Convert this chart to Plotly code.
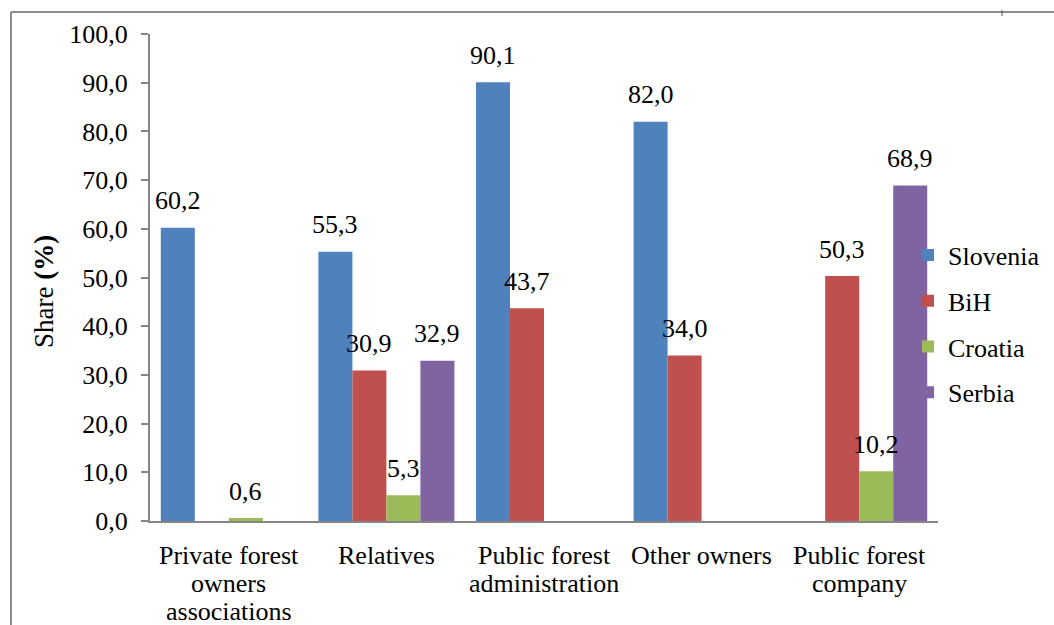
import plotly.graph_objects as go

categories = ["Private forest owners associations", "Relatives",
              "Public forest administration", "Other owners",
              "Public forest company"]
category_lines = [["Private forest", "owners", "associations"], ["Relatives"],
                  ["Public forest", "administration"], ["Other owners"],
                  ["Public forest", "company"]]
slovenia = [60.2, 55.3, 90.1, 82.0, None]
bih = [None, 30.9, 43.7, 34.0, 50.3]
croatia = [0.6, 5.3, None, None, 10.2]
serbia = [None, 32.9, None, None, 68.9]

series = [("Slovenia", slovenia, "#4F81BD"),
          ("BiH", bih, "#C0504D"),
          ("Croatia", croatia, "#9BBB59"),
          ("Serbia", serbia, "#8064A2")]

FONT = "Liberation Serif, Times New Roman, serif"
FS = 26
BARGAP = 0.137

fig = go.Figure()
annotations = []
n = len(series)
bw = (1 - BARGAP) / n
for i, (name, vals, col) in enumerate(series):
    fig.add_trace(go.Bar(
        x=categories, y=vals, name=name, legendgroup=name,
        marker=dict(color=col, line=dict(width=0)),
    ))
    for j, v in enumerate(vals):
        if v is None:
            continue
        annotations.append(dict(
            x=j + (i - (n - 1) / 2) * bw, y=v, xref="x", yref="y",
            text=f"{v:.1f}".replace(".", ","), showarrow=False,
            xanchor="center", yanchor="middle", yshift=27,
            font=dict(family=FONT, size=FS, color="black")))

for j, lines in enumerate(category_lines):
    for k, line in enumerate(lines):
        annotations.append(dict(
            x=j, y=0, xref="x", yref="paper", text=line, showarrow=False,
            xanchor="center", yanchor="middle", yshift=-(34 + k * 28),
            font=dict(family=FONT, size=FS, color="black")))

W, H = 788, 487
L, T = 150, 34

def px(x):
    return (x - L) / W

def py(y):
    return (T + H - y) / H

annotations.append(dict(text="Share <b>(%)</b>", textangle=-90,
                        xref="paper", yref="paper", x=px(44), y=py(292),
                        showarrow=False, xanchor="center", yanchor="middle",
                        font=dict(family=FONT, size=27, color="black")))

fig.update_layout(
    width=1054, height=625,
    margin=dict(l=L, r=1054 - 938, t=T, b=625 - 521, autoexpand=False),
    paper_bgcolor="white", plot_bgcolor="white",
    separators=",.",
    barmode="group", bargap=BARGAP, bargroupgap=0,
    font=dict(family=FONT, size=FS, color="black"),
    showlegend=True,
    legend=dict(x=px(908), xanchor="left", y=py(324), yanchor="middle",
                bgcolor="rgba(0,0,0,0)", tracegroupgap=9,
                font=dict(family=FONT, size=FS, color="black")),
    xaxis=dict(showline=True, linecolor="#868686", linewidth=2,
               ticks="", showgrid=False, zeroline=False,
               showticklabels=False, range=[-0.5, 4.5]),
    yaxis=dict(range=[0, 100], dtick=10, tickformat=".1f",
               showline=True, linecolor="#868686", linewidth=2,
               ticks="outside", ticklen=7, tickcolor="#868686", tickwidth=2,
               ticklabelstandoff=8,
               showgrid=False, zeroline=False,
               tickfont=dict(family=FONT, size=FS, color="black")),
    annotations=annotations,
    shapes=[
        dict(type="line", xref="paper", yref="paper", x0=px(11), x1=px(11),
             y0=py(12), y1=py(630), line=dict(color="#8c8c8c", width=2)),
        dict(type="line", xref="paper", yref="paper", x0=px(11), x1=px(1060),
             y0=py(12), y1=py(12), line=dict(color="#8c8c8c", width=2)),
        dict(type="line", xref="paper", yref="paper", x0=px(1002), x1=px(1002),
             y0=py(10), y1=py(16), line=dict(color="#555555", width=1)),
    ],
)

fig.write_html("out.html")
